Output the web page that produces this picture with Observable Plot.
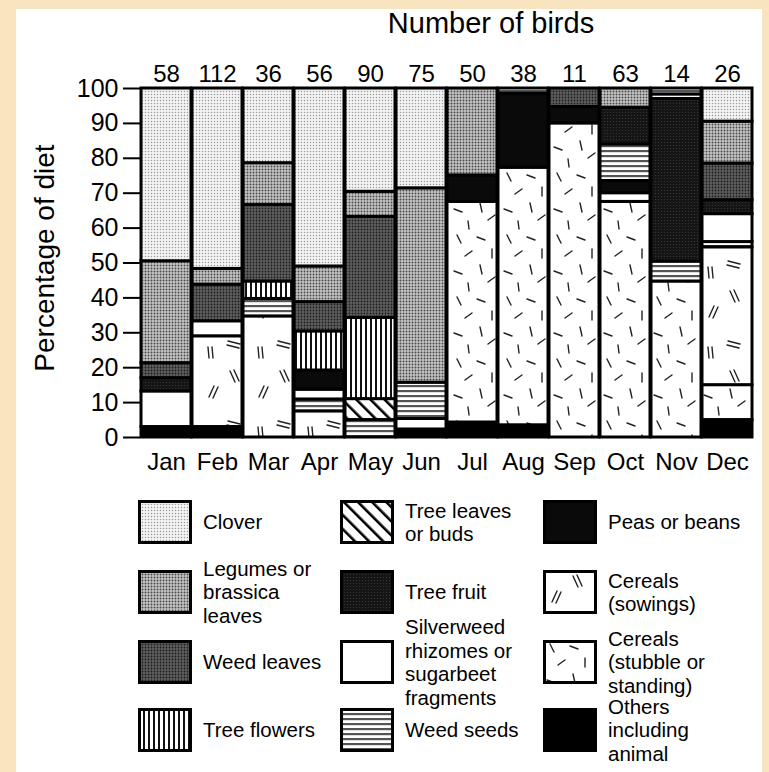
<!DOCTYPE html>
<html>
<head>
<meta charset="utf-8">
<script src="https://cdn.jsdelivr.net/npm/d3@7"></script>
<script src="https://cdn.jsdelivr.net/npm/@observablehq/plot@0.6"></script>
<style>
  html, body { margin: 0; padding: 0; }
  body { width: 769px; height: 772px; background: #f8e4bf; position: relative; overflow: hidden;
         font-family: "Liberation Sans", Arial, Helvetica, sans-serif; color: #000; }
  #card { position: absolute; left: 16px; top: 9px; width: 746px; height: 763px; background: #fff; }
  #title { position: absolute; left: 491px; top: 7px; transform: translateX(-50%); font-size: 29px; white-space: nowrap; }
  #chart { position: absolute; left: 0; top: 45px; }
  .item { position: absolute; height: 44px; display: flex; align-items: center; }
  .item svg { flex: none; }
  .item .lab { margin-left: 11px; font-size: 20.5px; line-height: 23.5px; white-space: pre-line; }
</style>
</head>
<body>
<div id="card"></div>
<svg width="0" height="0" style="position:absolute">
  <defs>
    <pattern id="p-CL" width="3" height="3" patternUnits="userSpaceOnUse">
      <rect width="3" height="3" fill="#f3f3f3"/><circle cx="1.5" cy="1.5" r="0.75" fill="#9a9a9a"/>
    </pattern>
    <pattern id="p-LG" width="3" height="3" patternUnits="userSpaceOnUse">
      <rect width="3" height="3" fill="#c4c4c4"/><circle cx="1.5" cy="1.5" r="0.95" fill="#4a4a4a"/>
    </pattern>
    <pattern id="p-WL" width="3" height="3" patternUnits="userSpaceOnUse">
      <rect width="3" height="3" fill="#5e5e5e"/><circle cx="1.5" cy="1.5" r="0.9" fill="#1c1c1c"/>
    </pattern>
    <pattern id="p-FR" width="3" height="3" patternUnits="userSpaceOnUse">
      <rect width="3" height="3" fill="#151515"/><circle cx="1.5" cy="1.5" r="0.6" fill="#3a3a3a"/>
    </pattern>
    <pattern id="p-PB" width="3" height="3" patternUnits="userSpaceOnUse">
      <rect width="3" height="3" fill="#0a0a0a"/>
    </pattern>
    <pattern id="p-OT" width="3" height="3" patternUnits="userSpaceOnUse">
      <rect width="3" height="3" fill="#000"/>
    </pattern>
    <pattern id="p-SW" width="3" height="3" patternUnits="userSpaceOnUse">
      <rect width="3" height="3" fill="#fff"/>
    </pattern>
    <pattern id="p-TF" width="5" height="5" patternUnits="userSpaceOnUse">
      <rect width="5" height="5" fill="#fff"/><rect x="0" width="2" height="5" fill="#111"/>
    </pattern>
    <pattern id="p-WS" width="5" height="5" patternUnits="userSpaceOnUse">
      <rect width="5" height="5" fill="#fff"/><rect y="0" width="5" height="2.2" fill="#555"/>
    </pattern>
    <pattern id="p-TL" width="10" height="10" patternUnits="userSpaceOnUse" patternTransform="rotate(-45)">
      <rect width="10" height="10" fill="#fff"/><rect x="0" width="2.6" height="10" fill="#000"/>
    </pattern>
    <pattern id="p-ST" width="50" height="62" patternUnits="userSpaceOnUse">
      <rect width="50" height="62" fill="#fff"/>
      <g stroke="#222" stroke-width="1.4" stroke-linecap="round">
        <line x1="7" y1="4" x2="11" y2="12"/>
        <line x1="27" y1="6" x2="35" y2="9"/>
        <line x1="42" y1="18" x2="42" y2="27"/>
        <line x1="15" y1="25" x2="22" y2="20"/>
        <line x1="4" y1="40" x2="12" y2="43"/>
        <line x1="30" y1="34" x2="32" y2="43"/>
        <line x1="45" y1="46" x2="38" y2="51"/>
        <line x1="18" y1="52" x2="19" y2="60"/>
      </g>
    </pattern>
    <pattern id="p-CS" width="50" height="80" patternUnits="userSpaceOnUse">
      <rect width="50" height="80" fill="#fff"/>
      <g stroke="#222" stroke-width="1.4" stroke-linecap="round">
        <line x1="9" y1="32" x2="14" y2="21"/><line x1="13" y1="33" x2="18" y2="22"/>
        <line x1="28" y1="56" x2="40" y2="59"/><line x1="27" y1="60" x2="39" y2="63"/>
        <line x1="30" y1="6" x2="35" y2="17"/><line x1="34" y1="5" x2="39" y2="16"/>
        <line x1="8" y1="62" x2="9" y2="73"/><line x1="12" y1="62" x2="13" y2="73"/>
      </g>
    </pattern>
  </defs>
</svg>
<div id="title">Number of birds</div>
<div id="chart"></div>
<div id="legend"></div>
<script>
// ---- data ----
const months = ["Jan","Feb","Mar","Apr","May","Jun","Jul","Aug","Sep","Oct","Nov","Dec"];
const birds = [58, 112, 36, 56, 90, 75, 50, 38, 11, 63, 14, 26];

// category codes (legend order: column by column)
const codes = ["CL","LG","WL","TF","TL","FR","SW","WS","PB","CS","ST","OT"];
const names = [
  "Clover", "Legumes or\nbrassica\nleaves", "Weed leaves", "Tree flowers",
  "Tree leaves\nor buds", "Tree fruit", "Silverweed\nrhizomes or\nsugarbeet\nfragments", "Weed seeds",
  "Peas or beans", "Cereals\n(sowings)", "Cereals\n(stubble or\nstanding)", "Others\nincluding\nanimal"
];

// segments per month, bottom to top: [category code, percentage]
const jan = [["OT",3],["SW",10.2],["FR",3.8],["WL",4.3],["LG",29.2],["CL",49.5]];
const feb = [["OT",3],["CS",26],["SW",4.3],["WL",10.5],["LG",4.5],["CL",51.7]];
const mar = [["CS",34.7],["WS",5],["TF",5],["WL",21.9],["LG",12],["CL",21.4]];
const apr = [["CS",7.5],["WS",3.4],["SW",2.8],["PB",5.5],["TF",11.2],["WL",8.4],["LG",10.2],["CL",51]];
const may = [["WS",5],["TL",6],["TF",23.3],["WL",28.9],["LG",7.2],["CL",29.6]];
const jun = [["OT",2.3],["SW",3],["WS",10.4],["LG",55.7],["CL",28.6]];
const jul = [["OT",4.3],["ST",63.2],["PB",7.6],["LG",24.9]];
const aug = [["OT",3.5],["ST",73.8],["PB",21.2],["WS",1.5]];
const sep = [["ST",90],["PB",4.7],["WL",5.3]];
const oct = [["ST",67.5],["SW",2.5],["PB",3.5],["WS",10.5],["FR",10.5],["LG",5.5]];
const nov = [["ST",44.7],["WS",5.7],["FR",46.6],["SW",1.3],["WS",1.7]];
const dec = [["OT",5],["ST",10],["CS",39.5],["WS",1.5],["SW",8],["FR",4],["WL",10.5],["LG",12],["CL",9.5]];

const segments = [jan, feb, mar, apr, may, jun, jul, aug, sep, oct, nov, dec];

// ---- build table ----
const rows = [];
segments.forEach((segs, i) => segs.forEach(([code, value]) => rows.push({month: months[i], code, value})));
const countRows = months.map((m, i) => ({month: m, birds: birds[i]}));

const FONT = '"Liberation Sans", Arial, Helvetica, sans-serif';

const chart = Plot.plot({
  width: 769, height: 435,
  marginTop: 43, marginBottom: 43, marginLeft: 140, marginRight: 17,
  style: {background: "transparent", fontFamily: FONT, color: "#000", overflow: "visible"},
  x: {domain: months, paddingInner: 0.02, paddingOuter: 0},
  y: {domain: [0, 100]},
  color: {domain: codes, range: codes.map(c => `url(#p-${c})`)},
  marks: [
    Plot.barY(rows, {x: "month", y: "value", fill: "code", stroke: "#000", strokeWidth: 3, order: null}),
    Plot.axisY({ticks: d3.range(0, 101, 10), tickSize: 17, tickPadding: 5, fontSize: 25, strokeWidth: 2, label: null}),
    Plot.axisX({tickSize: 0, tickPadding: 15, fontSize: 24, label: null}),
    Plot.text(countRows, {x: "month", text: "birds", frameAnchor: "top", lineAnchor: "middle", dy: -14, fontSize: 24}),
    Plot.text(["Percentage of diet"], {frameAnchor: "left", textAnchor: "middle", lineAnchor: "middle", rotate: -90, dx: -95, dy: -5, fontSize: 28})
  ]
});
document.getElementById("chart").appendChild(chart);

// ---- legend ----
const legend = document.getElementById("legend");
const colX = [138, 340, 543];
const rowY = [500, 570, 640, 708];
codes.forEach((c, i) => {
  const col = Math.floor(i / 4), row = i % 4;
  const div = document.createElement("div");
  div.className = "item";
  div.style.left = colX[col] + "px";
  div.style.top = rowY[row] + "px";
  div.innerHTML = `<svg width="54" height="44"><rect x="1.5" y="1.5" width="51" height="41" fill="url(#p-${c})" stroke="#000" stroke-width="3"/></svg><div class="lab"></div>`;
  div.querySelector(".lab").textContent = names[i];
  legend.appendChild(div);
});
</script>
</body>
</html>
